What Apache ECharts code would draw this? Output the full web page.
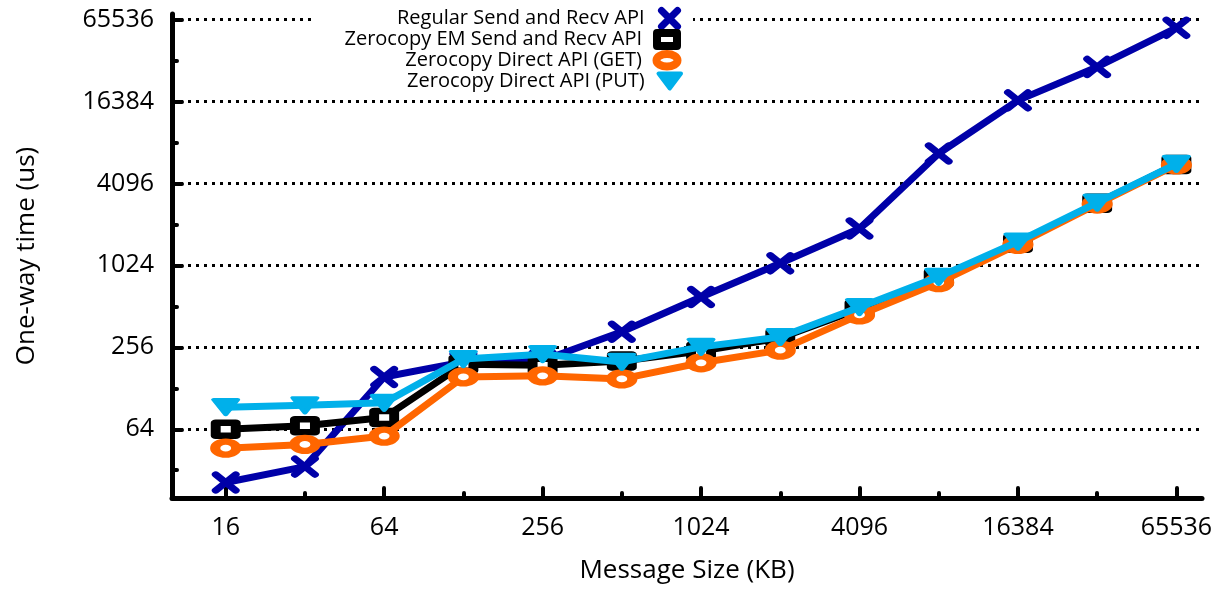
<!DOCTYPE html>
<html>
<head>
<meta charset="utf-8">
<script src="https://cdn.jsdelivr.net/npm/echarts@6/dist/echarts.min.js"></script>
<style>
  html, body { margin: 0; padding: 0; background: #fff; }
  #chart { width: 1223px; height: 592px; }
</style>
</head>
<body>
<div id="chart"></div>
<script>
// Message sizes (KB) and one-way latency (us) for each API
const sizesKB        = [16, 32, 64, 128, 256, 512, 1024, 2048, 4096, 8192, 16384, 32768, 65536];
const regularAPI     = [26, 34, 155, 200, 205, 333, 600, 1060, 1910, 6800, 16700, 29400, 57000];
const zerocopyEM     = [64, 68, 78, 192, 189, 203, 240, 300, 490, 826, 1490, 2930, 5650];
const directGET      = [46.5, 49.5, 57, 155, 158, 150, 197, 244, 443, 765, 1460, 2890, 5600];
const directPUT      = [93, 96, 100, 210, 228, 200, 258, 305, 505, 843, 1530, 2960, 5700];

// Axis ticks (powers of two) and plotted ranges
const xMajorTicks = [16, 64, 256, 1024, 4096, 16384, 65536];
const xMinorTicks = [32, 128, 512, 2048, 8192, 32768];
const yMajorTicks = [64, 256, 1024, 4096, 16384, 65536];
const yMinorTicks = [32, 128, 512, 2048, 8192, 32768];
const xRange = [10, 82000];
const yRange = [20, 72000];

const lg = Math.log2;
const FONT = '"Open Sans", Lato, "DejaVu Sans", sans-serif';
const fmtPow2 = v => String(Math.round(Math.pow(2, v)));

const styles = [
  { name: 'Regular Send and Recv API',      values: regularAPI, color: '#0000a8',
    symbol: 'path://M0,0L10,10M10,0L0,10', size: [20, 16], fill: '#0000a8', border: 7 },
  { name: 'Zerocopy EM Send and Recv API',  values: zerocopyEM, color: '#000000',
    symbol: 'rect', size: [20, 13], fill: '#ffffff', border: 8 },
  { name: 'Zerocopy Direct API (GET)',      values: directGET,  color: '#ff6600',
    symbol: 'path://M0,6A10,6 0 1,0 20,6A10,6 0 1,0 0,6Z', size: [21, 13], fill: '#ffffff', border: 8 },
  { name: 'Zerocopy Direct API (PUT)',      values: directPUT,  color: '#00b0ea',
    symbol: 'path://M0,0L12,0L6,8Z', size: [24, 15], fill: '#00b0ea', border: 4 }
];

const series = styles.map((s, k) => ({
  name: s.name,
  type: 'line',
  z: 2 + k,
  data: sizesKB.map((x, i) => [lg(x), lg(s.values[i])]),
  symbol: s.symbol,
  symbolSize: s.size,
  showAllSymbol: true,
  lineStyle: { color: s.color, width: 7, cap: 'round', join: 'round' },
  itemStyle: { color: s.fill, borderColor: s.color, borderWidth: s.border,
               borderCap: 'round', borderJoin: 'round' },
  emphasis: { disabled: true },
  animation: false
}));

// dotted horizontal grid at the labelled y values
series.push({
  name: 'grid',
  type: 'line',
  data: [],
  z: 1,
  silent: true,
  animation: false,
  markLine: {
    silent: true,
    z: 1,
    symbol: 'none',
    label: { show: false },
    lineStyle: { color: '#000', width: 3, type: [3, 5] },
    emphasis: { disabled: true },
    animation: false,
    data: yMajorTicks.map(v => ({ yAxis: lg(v) }))
  }
});

// one key entry per row, icons stacked in a single column
const keyRows = [19, 41, 62, 83];
const keyIconX = 671;
const legends = styles.map((s, k) => {
  const w = s.size[0], h = s.size[1];
  const pad = Math.max(0, (keyIconX - w / 2 - 5) - 646);
  return {
    orient: 'vertical',
    align: 'right',
    right: 1223 - (keyIconX + w / 2),
    top: keyRows[k] - 12,
    itemWidth: w,
    itemHeight: h,
    selectedMode: false,
    z: 20,
    padding: 0,
    textStyle: { fontFamily: FONT, fontSize: 20, color: '#000', padding: [0, pad, 0, 0] },
    data: [{
      name: s.name,
      icon: s.symbol,
      itemStyle: { color: s.fill, borderColor: s.color, borderWidth: s.border,
                   borderCap: 'round', borderJoin: 'round' }
    }]
  };
});

const axisLine = { show: true, lineStyle: { color: '#000', width: 5, cap: 'round' } };

const option = {
  backgroundColor: '#fff',
  animation: false,
  grid: { left: 172, right: 21, top: 14, bottom: 94 },
  legend: legends,
  graphic: [{
    type: 'rect', z: 10, silent: true,
    shape: { x: 313, y: 4, width: 380, height: 92 },
    style: { fill: '#fff' }
  }],
  xAxis: [{
    type: 'value', position: 'bottom',
    min: lg(xRange[0]), max: lg(xRange[1]),
    axisLine,
    axisTick: { show: true, inside: true, length: 10, customValues: xMajorTicks.map(lg),
                lineStyle: { color: '#000', width: 4, cap: 'round' } },
    axisLabel: { customValues: xMajorTicks.map(lg), formatter: fmtPow2, margin: 17,
                 fontFamily: FONT, fontSize: 25, color: '#000' },
    splitLine: { show: false },
    name: 'Message Size (KB)', nameLocation: 'middle', nameGap: 60,
    nameTextStyle: { fontFamily: FONT, fontSize: 26, color: '#000' }
  }, {
    type: 'value', position: 'bottom',
    min: lg(xRange[0]), max: lg(xRange[1]),
    axisLine: { show: false },
    axisTick: { show: true, inside: true, length: 5, customValues: xMinorTicks.map(lg),
                lineStyle: { color: '#000', width: 4, cap: 'round' } },
    axisLabel: { show: false },
    splitLine: { show: false }
  }],
  yAxis: [{
    type: 'value', position: 'left',
    min: lg(yRange[0]), max: lg(yRange[1]),
    axisLine,
    axisTick: { show: true, inside: true, length: 10, customValues: yMajorTicks.map(lg),
                lineStyle: { color: '#000', width: 4, cap: 'round' } },
    axisLabel: { customValues: yMajorTicks.map(lg), formatter: fmtPow2, margin: 18,
                 fontFamily: FONT, fontSize: 25, color: '#000' },
    splitLine: { show: false },
    name: 'One-way time (us)', nameLocation: 'middle', nameGap: 132, nameRotate: 90,
    nameTextStyle: { fontFamily: FONT, fontSize: 26, color: '#000' }
  }, {
    type: 'value', position: 'left',
    min: lg(yRange[0]), max: lg(yRange[1]),
    axisLine: { show: false },
    axisTick: { show: true, inside: true, length: 5, customValues: yMinorTicks.map(lg),
                lineStyle: { color: '#000', width: 4, cap: 'round' } },
    axisLabel: { show: false },
    splitLine: { show: false }
  }],
  series
};

const chart = echarts.init(document.getElementById('chart'), null, { renderer: 'canvas' });
chart.setOption(option);
</script>
</body>
</html>
